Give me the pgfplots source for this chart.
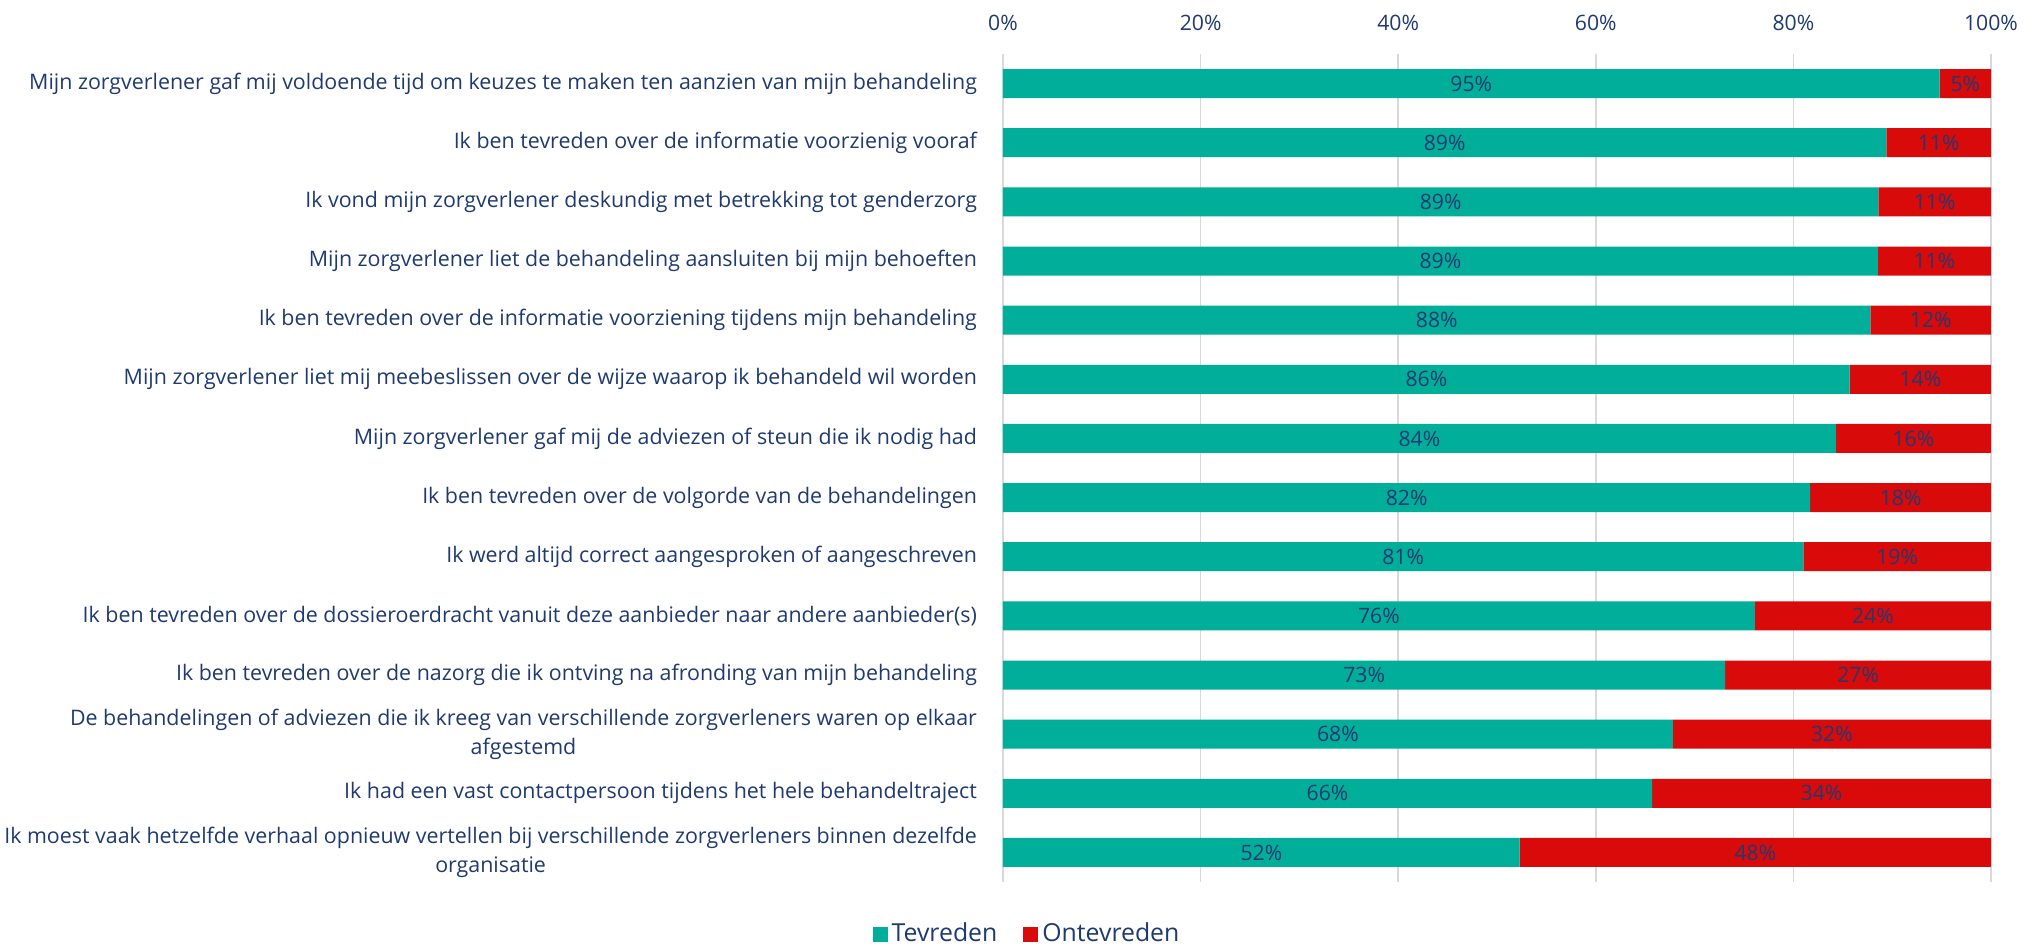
\documentclass[border=0pt]{standalone}
\usepackage{pgfplots}
\pgfplotsset{compat=1.18}
\usepackage{pgfplotstable}
\usepackage{fontspec}
\setmainfont{Open Sans}

\definecolor{tevreden}{HTML}{00AE99}
\definecolor{ontevreden}{HTML}{D90A0A}
\definecolor{navy}{HTML}{1F3A70}
\definecolor{gridgray}{HTML}{D9D9D9}

% share satisfied / dissatisfied per statement, top to bottom
\pgfplotstableread{
idx tev  ontev
0   94.8 5.2
1   89.4 10.6
2   88.6 11.4
3   88.55 11.45
4   87.8 12.2
5   85.7 14.3
6   84.3 15.7
7   81.7 18.3
8   81.0 19.0
9   76.1 23.9
10  73.1 26.9
11  67.8 32.2
12  65.7 34.3
13  52.3 47.7
}\scores

\begin{document}
\begin{tikzpicture}
\path[use as bounding box] (0,0) rectangle (1017.5pt,473.5pt);
\begin{axis}[
  at={(501.5pt,32.5pt)}, anchor=south west,
  scale only axis, width=494pt, height=414pt,
  xbar stacked, bar width=14.5pt,
  xmin=0, xmax=100, ymin=-0.5, ymax=13.5, y dir=reverse,
  xtick={0,20,...,100},
  xticklabel={\pgfmathprintnumber{\tick}\%},
  xticklabel pos=upper,
  xticklabel style={anchor=base, yshift=11.5pt, font=\fontsize{10.6}{12}\selectfont, text=navy},
  ytick={0,...,13},
  yticklabels={
    Mijn zorgverlener gaf mij voldoende tijd om keuzes te maken ten aanzien van mijn behandeling,
    Ik ben tevreden over de informatie voorzienig vooraf,
    Ik vond mijn zorgverlener deskundig met betrekking tot genderzorg,
    Mijn zorgverlener liet de behandeling aansluiten bij mijn behoeften,
    Ik ben tevreden over de informatie voorziening tijdens mijn behandeling,
    Mijn zorgverlener liet mij meebeslissen over de wijze waarop ik behandeld wil worden,
    Mijn zorgverlener gaf mij de adviezen of steun die ik nodig had,
    Ik ben tevreden over de volgorde van de behandelingen,
    Ik werd altijd correct aangesproken of aangeschreven,
    Ik ben tevreden over de dossieroerdracht vanuit deze aanbieder naar andere aanbieder(s),
    Ik ben tevreden over de nazorg die ik ontving na afronding van mijn behandeling,
    {De behandelingen of adviezen die ik kreeg van verschillende zorgverleners waren op elkaar\\afgestemd},
    Ik had een vast contactpersoon tijdens het hele behandeltraject,
    {Ik moest vaak hetzelfde verhaal opnieuw vertellen bij verschillende zorgverleners binnen dezelfde\\organisatie}
  },
  yticklabel style={align=center, xshift=-9.5pt, font=\fontsize{10.7}{14.5}\selectfont, text=navy},
  axis line style={draw=none},
  major tick length=0pt,
  xmajorgrids, grid style={gridgray, line width=0.8pt},
  /pgf/number format/assume math mode=true,
  nodes near coords={\pgfmathprintnumber[fixed,precision=0]{\pgfplotspointmeta}\%},
  every node near coord/.append style={anchor=center,
    font=\fontsize{10.6}{12}\selectfont, text=navy},
  legend style={at={(0.0253,-0.0628)}, anchor=center, legend columns=2, draw=none,
    font=\fontsize{12.4}{14}\selectfont, text=navy,
    /tikz/every even column/.append style={column sep=11pt}},
  legend image code/.code={\path[#1] (0pt,-3.75pt) rectangle (7.5pt,3.75pt);},
]
\addplot[fill=tevreden, draw=none] table[x=tev, y=idx] {\scores};
\addplot[fill=ontevreden, draw=none] table[x=ontev, y=idx] {\scores};
\legend{Tevreden, Ontevreden}
\end{axis}
\end{tikzpicture}
\end{document}
